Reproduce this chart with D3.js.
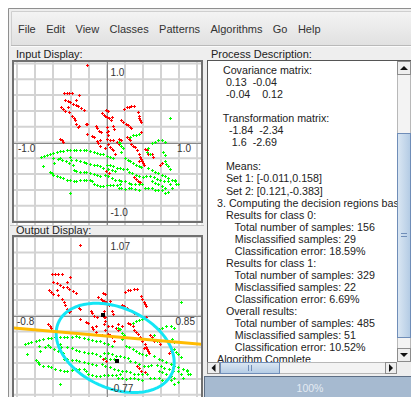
<!DOCTYPE html>
<html><head><meta charset="utf-8">
<script src="https://cdn.jsdelivr.net/npm/d3@7"></script>
<style>
html,body{margin:0;padding:0;background:#fff;overflow:hidden}
svg{display:block;font-family:"Liberation Sans",Arial,sans-serif}
</style></head><body>
<svg id="c" width="411" height="397"></svg>
<script>
// ---------------- data ----------------
const menuItems = ["File","Edit","View","Classes","Patterns","Algorithms","Go","Help"];
const inputXDomain = [-1.0, 1.0];
const inputYDomain = [-1.0, 1.0];
const inputXLabels = ["-1.0","1.0"];
const inputYLabels = ["-1.0","1.0"];
const outputXDomain = [-0.8, 0.85];
const outputYDomain = [-0.77, 1.07];
const outputXLabels = ["-0.8","0.85"];
const outputYLabels = ["-0.77","1.07"];

const class0 = [
[-0.22,0.975],
[-0.48,0.63],[-0.45,0.63],[-0.42,0.63],[-0.39,0.63],[-0.31,0.60],
[-0.47,0.54],[-0.43,0.53],[-0.41,0.51],[-0.38,0.49],[-0.34,0.48],[-0.32,0.46],[-0.29,0.44],[-0.34,0.54],
[-0.51,0.45],[-0.49,0.43],[-0.47,0.40],[-0.43,0.45],[-0.42,0.39],
[-0.26,0.41],
[-0.39,0.34],[-0.37,0.31],[-0.36,0.28],[-0.34,0.23],[-0.32,0.19],[-0.31,0.21],
[-0.23,0.24],[-0.22,0.23],
[-0.12,0.21],[-0.11,0.18],[-0.09,0.15],[-0.07,0.13],
[-0.06,0.37],[-0.03,0.35],[-0.02,0.33],[0.00,0.32],[0.02,0.31],[0.04,0.28],[0.01,0.40],[-0.01,0.41],[0.05,0.32],
[-0.17,0.08],[-0.15,0.07],[-0.11,0.02],[-0.08,0.03],[-0.22,0.11],
[-0.52,0.05],[-0.50,0.03],[-0.49,0.01],
[0.00,0.20],[0.01,0.14],[0.00,0.13],[0.01,0.09],[0.00,0.05],[0.03,0.03],[0.07,0.21],[0.08,0.17],[0.07,0.03],[0.11,0.01],[0.13,0.05],[0.16,0.03],
[0.19,0.43],[0.22,0.45],[0.24,0.45],[0.27,0.46],[0.30,0.46],
[0.34,0.38],[0.35,0.34],[0.36,0.31],[0.37,0.29],[0.38,0.26],
[0.16,0.28],[0.18,0.26],[0.21,0.24],[0.23,0.22],[0.25,0.20],[0.27,0.18],
[0.01,-0.02],[0.03,-0.06],[0.05,-0.08],[0.07,-0.10],[0.09,-0.14],[-0.02,-0.07],[0.13,-0.02],[-0.10,0.00],[-0.08,-0.04],
[0.22,0.07],[0.24,0.05],[0.26,0.03],[0.27,-0.02],[0.29,-0.04],[0.31,-0.06],[0.33,-0.10],[0.35,-0.14],[0.37,-0.18],
[0.38,0.13],
[0.38,-0.21],[0.39,-0.24],[0.40,-0.26],[0.41,-0.28],[0.36,-0.23],
[0.42,-0.08],[0.44,-0.10],[0.46,-0.14],[0.50,-0.15],[0.51,-0.18],
[0.59,-0.29],[0.61,-0.26],
[0.30,-0.44],[0.32,-0.46],[0.34,-0.49],[0.37,-0.50],
[-0.01,-0.36],[0.02,-0.38]
];

const class1 = [
[0.70,0.31],
[0.26,0.07],[0.29,0.09],[0.32,0.10],[0.35,0.11],
[0.14,0.00],[0.53,0.01],[0.57,0.03],[0.61,0.03],[0.64,0.01],[0.50,-0.01],
[-0.70,-0.17],[-0.67,-0.16],[-0.63,-0.15],[-0.60,-0.13],[-0.56,-0.12],[-0.52,-0.11],[-0.49,-0.11],[-0.45,-0.10],[-0.41,-0.10],[-0.37,-0.10],[-0.34,-0.10],[-0.30,-0.10],[-0.26,-0.09],[-0.23,-0.10],[-0.19,-0.11],[-0.15,-0.12],[-0.11,-0.13],[-0.08,-0.15],[-0.04,-0.15],[0.00,-0.17],[0.03,-0.18],[0.07,-0.20],
[-0.73,-0.18],[-0.71,-0.30],[-0.60,-0.20],[-0.59,-0.26],[-0.41,-0.18],[-0.40,-0.22],[-0.52,-0.19],
[-0.54,-0.21],[-0.50,-0.22],[-0.46,-0.24],[-0.42,-0.26],[-0.38,-0.28],
[-0.34,-0.22],[-0.30,-0.23],[-0.26,-0.25],[-0.23,-0.26],[-0.19,-0.27],[-0.15,-0.28],[-0.11,-0.29],[-0.08,-0.30],[-0.04,-0.32],[0.00,-0.28],[0.03,-0.29],[0.07,-0.30],[0.11,-0.32],[0.14,-0.32],[0.18,-0.33],[0.22,-0.34],[0.01,-0.34],[0.05,-0.35],[0.09,-0.36],
[-0.37,-0.35],[-0.34,-0.36],[-0.30,-0.37],[-0.26,-0.37],[-0.23,-0.375],[-0.19,-0.39],[-0.15,-0.40],[-0.11,-0.41],[-0.08,-0.42],[-0.02,-0.41],[0.01,-0.43],[0.05,-0.45],[0.09,-0.47],[0.13,-0.48],[0.16,-0.49],
[-0.63,-0.37],[-0.61,-0.39],[-0.60,-0.41],[-0.56,-0.43],[-0.52,-0.44],[-0.49,-0.45],[-0.45,-0.47],[-0.41,-0.48],[-0.37,-0.49],[-0.34,-0.49],[-0.30,-0.48],[-0.26,-0.475],[-0.23,-0.47],[-0.19,-0.47],[-0.17,-0.49],
[-0.15,-0.53],[-0.11,-0.54],[-0.08,-0.55],[-0.04,-0.55],[0.00,-0.54],[0.03,-0.54],[0.07,-0.54],[0.11,-0.54],[0.14,-0.53],[0.20,-0.49],[0.24,-0.51],[0.27,-0.525],[0.31,-0.53],[0.35,-0.53],[0.39,-0.525],
[0.24,-0.575],[0.27,-0.58],[0.31,-0.59],[0.35,-0.60],[0.20,-0.59],[0.16,-0.58],[0.13,-0.58],
[0.46,-0.325],[0.50,-0.35],[0.53,-0.37],[0.57,-0.39],[0.61,-0.41],[0.64,-0.43],[0.68,-0.45],[0.72,-0.47],[0.76,-0.48],
[0.48,-0.42],[0.52,-0.44],[0.55,-0.46],[0.59,-0.47],[0.63,-0.49],
[0.50,-0.49],[0.53,-0.51],[0.57,-0.53],[0.61,-0.55],[0.64,-0.575],
[0.46,-0.575],[0.50,-0.58],[0.53,-0.60],[0.57,-0.60],[0.61,-0.60],[0.42,-0.575],
[0.64,-0.24],[0.66,-0.275],[0.68,-0.30],[0.70,-0.33],[0.62,-0.12],[0.64,-0.16],
[0.68,-0.49],[0.70,-0.53],[0.72,-0.575],[0.76,-0.49],[0.77,-0.53],[0.79,-0.53],[0.64,-0.64],[0.68,-0.625],
[-0.41,-0.64],
[0.13,0.01],[0.14,-0.01],[0.16,-0.05],[0.18,-0.075],[0.16,-0.12],[0.44,-0.12],[0.46,-0.075],[0.48,-0.14],
[0.24,-0.375],[0.28,-0.39],[0.32,-0.41],[0.36,-0.43],[0.40,-0.44],[0.43,-0.425],
[0.20,-0.20],[0.23,-0.22],[0.26,-0.24],[0.29,-0.26],[0.32,-0.28],[0.35,-0.30],[0.38,-0.31]
];

const means = [[-0.011,0.158],[0.121,-0.383]];
const covariance = [[0.13,-0.04],[-0.04,0.12]];
const ellipseCenter = [0.10,-0.225];
const ellipseScale = 1.5;
const boundaryX = [-0.83, 0.91];
const boundaryY = [0.007, -0.184];

const processLines = [
"  Covariance matrix:",
"   0.13  -0.04",
"   -0.04    0.12",
"",
"  Transformation matrix:",
"    -1.84  -2.34",
"     1.6  -2.69",
"",
"   Means:",
"   Set 1: [-0.011,0.158]",
"   Set 2: [0.121,-0.383]",
"3. Computing the decision regions bas",
"   Results for class 0:",
"      Total number of samples: 156",
"      Misclassified samples: 29",
"      Classification error: 18.59%",
"   Results for class 1:",
"      Total number of samples: 329",
"      Misclassified samples: 22",
"      Classification error: 6.69%",
"   Overall results:",
"      Total number of samples: 485",
"      Misclassified samples: 51",
"      Classification error: 10.52%",
"Algorithm Complete"
];
const progressText = "100%";

// ---------------- drawing ----------------
const W = 411, H = 397;
const svg = d3.select("#c");
const defs = svg.append("defs");

svg.append("rect").attr("width", W).attr("height", H).attr("fill", "#ffffff");
svg.append("rect").attr("x", 8).attr("y", 8).attr("width", W - 8).attr("height", H - 8).attr("fill", "#eeeeee");
svg.append("path").attr("d", "M8.5,397V8.5H411").attr("stroke", "#8f8f8f").attr("fill", "none");

// menu bar
const mb = defs.append("linearGradient").attr("id", "mb").attr("x1", 0).attr("y1", 0).attr("x2", 0).attr("y2", 1);
mb.append("stop").attr("offset", 0).attr("stop-color", "#f4f4f4");
mb.append("stop").attr("offset", 1).attr("stop-color", "#e1e1e1");
svg.append("rect").attr("x", 11).attr("y", 11).attr("width", W - 11).attr("height", 34).attr("fill", "url(#mb)");
svg.append("path").attr("d", "M11.5,45V11.5H411").attr("stroke", "#cfcfcf").attr("fill", "none");
svg.append("line").attr("x1", 11).attr("x2", W).attr("y1", 45.5).attr("y2", 45.5).attr("stroke", "#b9b9b9");
svg.append("line").attr("x1", 11).attr("x2", W).attr("y1", 46.5).attr("y2", 46.5).attr("stroke", "#fbfbfb");
let mx = 18;
menuItems.forEach(t => {
  const el = svg.append("text").attr("x", mx).attr("y", 33).attr("font-size", 11).attr("fill", "#333").text(t);
  mx += el.node().getComputedTextLength() + 10.4;
});

// labels
svg.append("text").attr("x", 16).attr("y", 58).attr("font-size", 11).attr("fill", "#222").text("Input Display:");
svg.append("text").attr("x", 16).attr("y", 234).attr("font-size", 11).attr("fill", "#222").text("Output Display:");
svg.append("text").attr("x", 211).attr("y", 57.5).attr("font-size", 11).attr("fill", "#222").text("Process Description:");
svg.append("line").attr("x1", 10).attr("x2", 204).attr("y1", 225.5).attr("y2", 225.5).attr("stroke", "#c4c4c4");

function plusPath(xs, ys) {
  return d => {
    const px = Math.round(xs(d[0])), py = Math.round(ys(d[1]));
    return `M${px - 1},${py + 0.5}h3M${px + 0.5},${py - 1}v3`;
  };
}

function drawPlot(id, top, yBottom, yTop, xDom, yDom, xLabels, yLabels, opts) {
  const g = svg.append("g");
  const inner = {x: 14, y: top + 2, w: 187, h: Math.min(H, top + 161) - (top + 2)};
  g.append("rect").attr("x", inner.x).attr("y", inner.y).attr("width", inner.w).attr("height", inner.h + 4).attr("fill", "#ffffff");
  const x = d3.scaleLinear().domain(xDom).range([17, 197]);
  const y = d3.scaleLinear().domain(yDom).range([yBottom, yTop]);
  defs.append("clipPath").attr("id", id).append("rect")
    .attr("x", inner.x).attr("y", inner.y).attr("width", inner.w).attr("height", inner.h + 4);
  const pg = g.append("g").attr("clip-path", `url(#${id})`);
  const gx = d3.range(11).map(i => xDom[0] + i * (xDom[1] - xDom[0]) / 10);
  const gy = d3.range(11).map(i => yDom[0] + i * (yDom[1] - yDom[0]) / 10);
  pg.selectAll(null).data(gx).join("line")
    .attr("x1", d => x(d)).attr("x2", d => x(d)).attr("y1", inner.y).attr("y2", inner.y + inner.h + 4)
    .attr("stroke", "#d3d3d3").attr("stroke-width", 2);
  pg.selectAll(null).data(gy).join("line")
    .attr("y1", d => y(d)).attr("y2", d => y(d)).attr("x1", inner.x).attr("x2", inner.x + inner.w)
    .attr("stroke", "#d3d3d3").attr("stroke-width", 2);
  const cx = Math.round(x((xDom[0] + xDom[1]) / 2)) + 0.5;
  const cy = Math.round(y((yDom[0] + yDom[1]) / 2)) + 0.5;
  pg.append("line").attr("x1", cx).attr("x2", cx).attr("y1", inner.y).attr("y2", inner.y + inner.h + 4).attr("stroke", "#8a8a8a");
  pg.append("line").attr("y1", cy).attr("y2", cy).attr("x1", inner.x).attr("x2", inner.x + inner.w).attr("stroke", "#8a8a8a");

  pg.append("g").selectAll("path").data(class0).join("path")
    .attr("d", plusPath(x, y)).attr("stroke", "#ff0000").attr("stroke-width", 1).attr("fill", "none");
  pg.append("g").selectAll("path").data(class1).join("path")
    .attr("d", plusPath(x, y)).attr("stroke", "#00ff00").attr("stroke-width", 1).attr("fill", "none");

  if (opts.decision) {
    const a = Math.sqrt(covariance[0][0]);
    const b = covariance[0][1] / a;
    const c = Math.sqrt(covariance[1][1] - b * b);
    const ts = d3.range(0, 2 * Math.PI, Math.PI / 90);
    const ell = ts.map(t => [
      ellipseCenter[0] + ellipseScale * a * Math.cos(t),
      ellipseCenter[1] + ellipseScale * (b * Math.cos(t) + c * Math.sin(t))
    ]);
    pg.append("path").datum(ell)
      .attr("d", d3.line().x(d => x(d[0])).y(d => y(d[1])).curve(d3.curveLinearClosed))
      .attr("fill", "none").attr("stroke", "#14e6f5").attr("stroke-width", 3);
    pg.append("line")
      .attr("x1", x(boundaryX[0])).attr("y1", y(boundaryY[0]))
      .attr("x2", x(boundaryX[1])).attr("y2", y(boundaryY[1]))
      .attr("stroke", "#ffbb00").attr("stroke-width", 3);
    pg.selectAll(null).data(means).join("rect")
      .attr("x", d => Math.round(x(d[0])) - 2).attr("y", d => Math.round(y(d[1])) - 2)
      .attr("width", 4).attr("height", 4).attr("fill", "#000");
  }

  const lab = g.append("g").attr("font-size", 10).attr("fill", "#333");
  lab.append("text").attr("x", opts.leftLab).attr("y", cy + 8.5).text(xLabels[0]);
  lab.append("text").attr("x", opts.rightLab).attr("y", cy + 8.5).attr("text-anchor", "end").text(xLabels[1]);
  lab.append("text").attr("x", cx + 3).attr("y", opts.topLab).text(yLabels[1]);
  lab.append("text").attr("x", cx + 3).attr("y", opts.botLab).text(yLabels[0]);

  g.append("rect").attr("x", 13).attr("y", top + 1).attr("width", 189).attr("height", inner.h + 2 + (opts.open ? 40 : 0))
    .attr("fill", "none").attr("stroke", "#707070").attr("stroke-width", 2);
}

drawPlot("cin", 60, 221.5, 63.5, inputXDomain, inputYDomain, inputXLabels, inputYLabels,
  {topLab: 76, botLab: 216, leftLab: 18, rightLab: 191, decision: false, open: false});
drawPlot("cout", 235, 394.7, 236.7, outputXDomain, outputYDomain, outputXLabels, outputYLabels,
  {topLab: 249.5, botLab: 391.5, leftLab: 17, rightLab: 195, decision: true, open: true});

// ---------- process description text area ----------
svg.append("rect").attr("x", 207.5).attr("y", 60.5).attr("width", 205).attr("height", 313).attr("fill", "#ffffff").attr("stroke", "#555");
defs.append("clipPath").attr("id", "ta").append("rect").attr("x", 208).attr("y", 61).attr("width", 189).attr("height", 301);
const tg = svg.append("g").attr("clip-path", "url(#ta)").attr("font-size", 10.7).attr("fill", "#222");
tg.selectAll("text").data(processLines).join("text")
  .attr("x", 217).attr("y", (d, i) => 74 + i * 12.05)
  .style("white-space", "pre").text(d => d);

// vertical scrollbar
const vs = svg.append("g");
vs.append("rect").attr("x", 397.5).attr("y", 61.5).attr("width", 13).attr("height", 300).attr("fill", "#f3f3f3").attr("stroke", "#b8b8b8");
function button(g, x0, y0, w, h, dir) {
  g.append("rect").attr("x", x0 + 0.5).attr("y", y0 + 0.5).attr("width", w - 1).attr("height", h - 1).attr("fill", "#eeeeee").attr("stroke", "#8c8c8c");
  const cx = x0 + w / 2, cy = y0 + h / 2;
  const tri = {up: `M${cx - 4},${cy + 2}L${cx + 4},${cy + 2}L${cx},${cy - 2}Z`,
               down: `M${cx - 4},${cy - 2}L${cx + 4},${cy - 2}L${cx},${cy + 2}Z`,
               left: `M${cx + 2},${cy - 4}L${cx + 2},${cy + 4}L${cx - 2},${cy}Z`,
               right: `M${cx - 2},${cy - 4}L${cx - 2},${cy + 4}L${cx + 2},${cy}Z`}[dir];
  g.append("path").attr("d", tri).attr("fill", "#111");
}
const th = defs.append("linearGradient").attr("id", "th").attr("x1", 0).attr("y1", 0).attr("x2", 1).attr("y2", 0);
th.append("stop").attr("offset", 0).attr("stop-color", "#dbe7f3");
th.append("stop").attr("offset", 1).attr("stop-color", "#b3cbe4");
const thv = defs.append("linearGradient").attr("id", "thv").attr("x1", 0).attr("y1", 0).attr("x2", 0).attr("y2", 1);
thv.append("stop").attr("offset", 0).attr("stop-color", "#dbe7f3");
thv.append("stop").attr("offset", 1).attr("stop-color", "#b3cbe4");
button(vs, 397, 61, 14, 14, "up");
vs.append("rect").attr("x", 397.5).attr("y", 133.5).attr("width", 13).attr("height", 204).attr("fill", "url(#th)").attr("stroke", "#6f8db8");
vs.append("path").attr("d", "M401,233.5h6M401,236.5h6").attr("stroke", "#6f8db8");
button(vs, 397, 348, 14, 14, "down");

// horizontal scrollbar
const hs = svg.append("g");
hs.append("rect").attr("x", 207.5).attr("y", 362.5).attr("width", 190).attr("height", 11).attr("fill", "#f3f3f3").attr("stroke", "#b8b8b8");
button(hs, 207, 362, 13, 12, "left");
hs.append("rect").attr("x", 220.5).attr("y", 362.5).attr("width", 59).attr("height", 11).attr("fill", "url(#thv)").attr("stroke", "#6f8db8");
hs.append("path").attr("d", "M248.5,365v6M251.5,365v6").attr("stroke", "#6f8db8");
button(hs, 385, 362, 12, 12, "right");
hs.append("rect").attr("x", 397).attr("y", 362).attr("width", 14).attr("height", 12).attr("fill", "#eeeeee");

// progress bar
svg.append("rect").attr("x", 204.5).attr("y", 376.5).attr("width", 207).attr("height", 21).attr("fill", "#a6bad0").attr("stroke", "#5d6e84");
svg.append("text").attr("x", 310).attr("y", 392).attr("text-anchor", "middle").attr("font-size", 10.5)
  .attr("fill", "#e4ebf3").text(progressText);
</script>
</body></html>
